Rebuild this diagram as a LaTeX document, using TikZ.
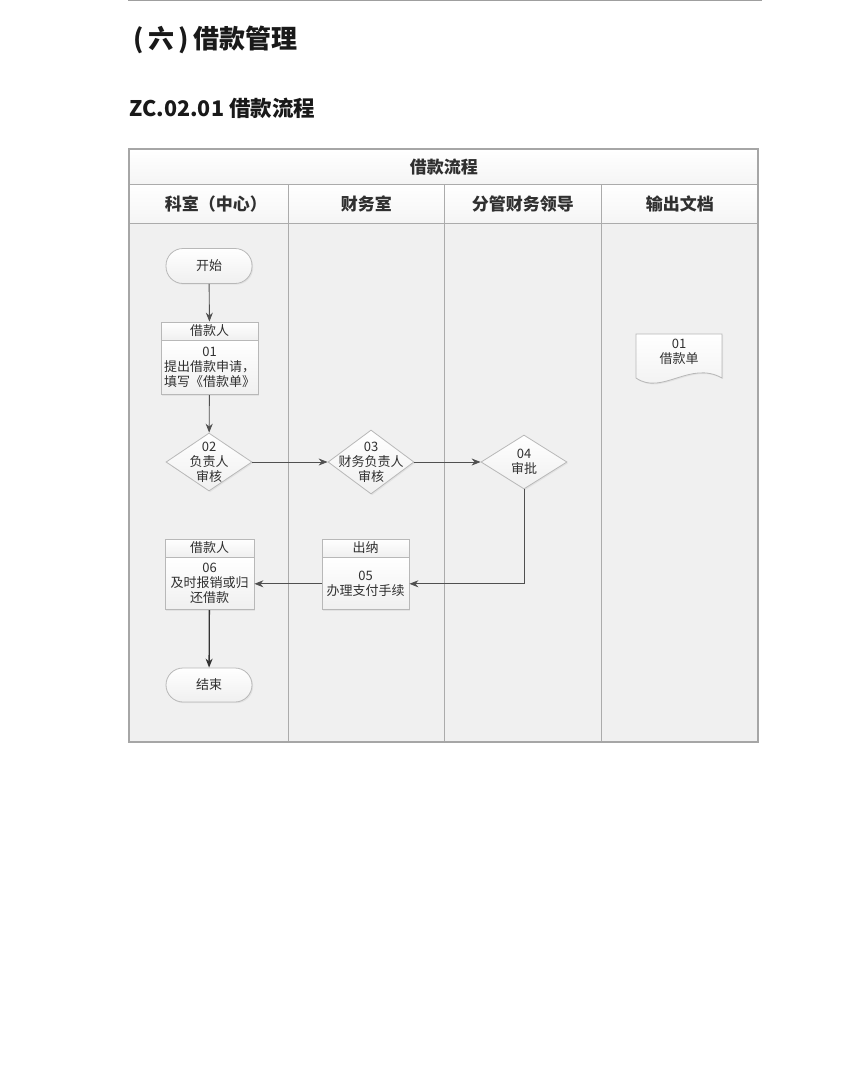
\documentclass[tikz,border=0pt]{standalone}
\usepackage{fontspec}
\setmainfont{Noto Sans CJK SC}
\usetikzlibrary{shapes.geometric,positioning,shadows,arrows.meta}

\definecolor{lanegray}{HTML}{F0F0F0}
\definecolor{linegray}{HTML}{ABABAB}
\definecolor{boxline}{HTML}{B8B8B8}
\definecolor{inkgray}{HTML}{303030}
\definecolor{arrowgray}{HTML}{505050}

\tikzset{
  lane/.style={draw=linegray, fill=lanegray, line width=0.8pt},
  headcell/.style={draw=linegray, line width=0.8pt, top color=white, bottom color=gray!8,
    inner sep=0pt, anchor=north west, text=inkgray, font=\fontsize{17}{19}\selectfont\bfseries},
  shapebase/.style={draw=boxline, line width=0.8pt, top color=white, bottom color=gray!12,
    text=inkgray, font=\fontsize{13}{15}\selectfont, align=center,
    drop shadow={opacity=0.12, shadow xshift=1.2pt, shadow yshift=-1.2pt}},
  terminal/.style={shapebase, rounded corners=17pt, minimum width=86pt, minimum height=35pt},
  rolebox/.style={shapebase, minimum height=18pt, inner sep=0pt},
  taskbox/.style={shapebase, inner sep=0pt},
  decision/.style={shapebase, diamond, inner sep=0pt},
  plaintext/.style={text=inkgray, font=\fontsize{13}{15}\selectfont, align=center, inner sep=0pt},
  flow/.style={->, draw=arrowgray, line width=0.9pt}
}

\begin{document}
\begin{tikzpicture}[x=1pt,y=-1pt,>={Stealth[length=9pt,width=7pt]}]
\useasboundingbox[fill=white] (0,0) rectangle (860,1066);

% page headings
\draw[gray!75, line width=1.4pt] (128,0.7) -- (762,0.7);
\node[anchor=west, text=black!90, font=\fontsize{26}{28}\selectfont\bfseries] (sect) at (130,40) {(\,六\,)\,借款管理};
\node[anchor=west, text=black!90, font=\fontsize{21.5}{24}\selectfont\bfseries] (proc) at (126,108) {ZC.02.01 借款流程};

% swimlanes
\foreach \xa/\xb in {129/288,288/444,444/601,601/758}
    \draw[lane] (\xa,223) rectangle (\xb,742);
\node[headcell, minimum width=629pt, minimum height=35pt] (ttl) at (129,149) {借款流程};
\foreach \xa/\w/\txt/\nm in {129/159/{\hspace*{14pt}科室（中心）}/hA, 288/156/财务室/hB,
                             444/157/分管财务领导/hC, 601/157/输出文档/hD}
    \node[headcell, minimum width=\w pt, minimum height=39pt] (\nm) at (\xa,184) {\txt};
\draw[gray!70, line width=1.2pt] (129,149) rectangle (758,742);

% flow
\node[terminal] (start) at (209,266) {开始};

\node[rolebox, minimum width=97pt] (r01) at (209.5,331) {借款人};
\node[taskbox, below=0pt of r01, minimum width=97pt, minimum height=54pt] (s01) {01\\提出借款申请，\\填写《借款单》};

\node[decision, minimum width=86pt, minimum height=58pt] (d02) at (209,462) {};
\node[plaintext] (t02) at (d02) {02\\负责人\\审核};
\node[decision, minimum width=86pt, minimum height=64pt] (d03) at (371,462) {};
\node[plaintext] (t03) at (d03) {03\\财务负责人\\审核};
\node[decision, minimum width=86pt, minimum height=54pt] (d04) at (524,462) {};
\node[plaintext] (t04) at (d04) {04\\审批};

\node[rolebox, minimum width=87pt] (r05) at (365.5,548) {出纳};
\node[taskbox, below=0pt of r05, minimum width=87pt, minimum height=52pt] (s05) {05\\办理支付手续};
\node[rolebox, minimum width=89pt] (r06) at (209.5,548) {借款人};
\node[taskbox, below=0pt of r06, minimum width=89pt, minimum height=52pt] (s06) {06\\及时报销或归\\还借款};

\node[terminal, minimum height=34pt] (end) at (209,685) {结束};

% output document
\draw[draw=boxline, line width=0.8pt, top color=white, bottom color=gray!12,
      drop shadow={opacity=0.12, shadow xshift=1.2pt, shadow yshift=-1.2pt}]
    (636,334) -- (722,334) -- (722,378) .. controls (690,360) and (662,396) .. (636,378) -- cycle;
\node[plaintext] (doc01) at (679,352) {01\\借款单};

\draw[flow] (start) -- (r01);
\draw[flow] (s01) -- (d02);
\draw[flow] (d02) -- (d03);
\draw[flow] (d03) -- (d04);
\draw[flow] (d04) |- (s05);
\draw[flow] (s05) -- (s06);
\draw[flow, line width=1.3pt, draw=black!80] (s06) -- (end);
\end{tikzpicture}
\end{document}
